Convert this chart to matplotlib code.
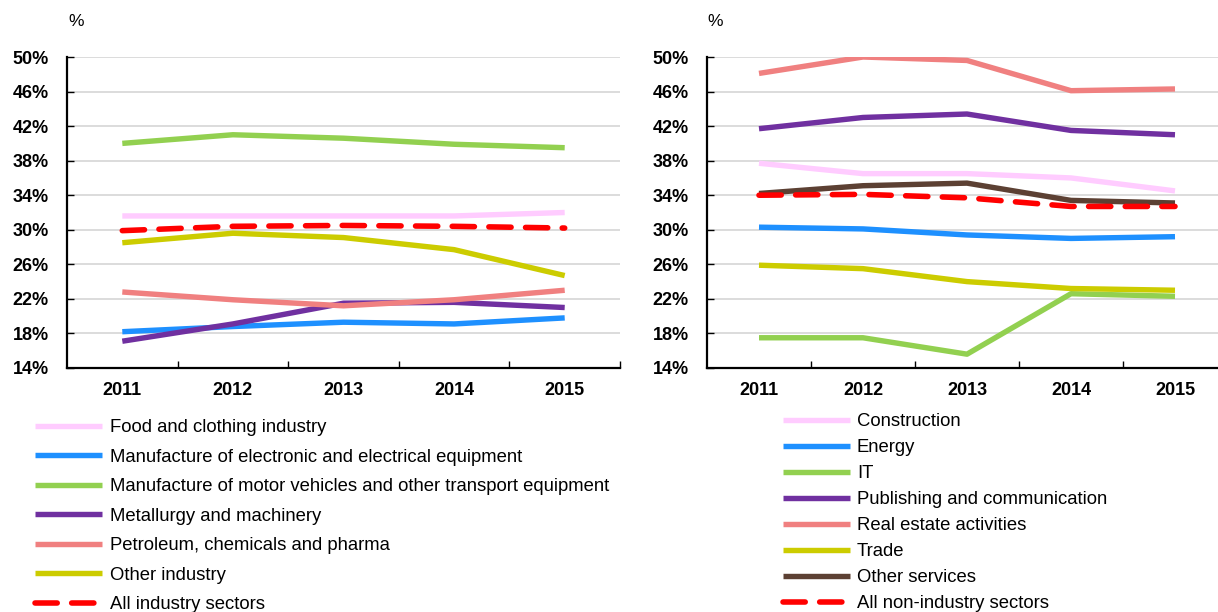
import matplotlib.pyplot as plt
from matplotlib.ticker import FixedLocator, FuncFormatter

plt.rcParams['font.family'] = ['Liberation Sans', 'DejaVu Sans']

years = ['2011', '2012', '2013', '2014', '2015']

# left panel: industry sectors (%)
industry_labels = [
    'Food and clothing industry',
    'Manufacture of electronic and electrical equipment',
    'Manufacture of motor vehicles and other transport equipment',
    'Metallurgy and machinery',
    'Petroleum, chemicals and pharma',
    'Other industry',
    'All industry sectors',
]
food = [31.6, 31.6, 31.6, 31.6, 32.0]
electronic = [18.2, 18.8, 19.3, 19.1, 19.8]
motor = [40.0, 41.0, 40.6, 39.9, 39.5]
metallurgy = [17.1, 19.1, 21.5, 21.6, 21.0]
petroleum = [22.8, 21.9, 21.2, 21.9, 23.0]
other_industry = [28.5, 29.6, 29.1, 27.7, 24.7]
all_industry = [29.9, 30.4, 30.5, 30.4, 30.2]
industry_values = [food, electronic, motor, metallurgy, petroleum,
                   other_industry, all_industry]

# right panel: non-industry sectors (%)
services_labels = [
    'Construction',
    'Energy',
    'IT',
    'Publishing and communication',
    'Real estate activities',
    'Trade',
    'Other services',
    'All non-industry sectors',
]
construction = [37.7, 36.5, 36.5, 36.0, 34.5]
energy = [30.3, 30.1, 29.4, 29.0, 29.2]
it = [17.5, 17.5, 15.6, 22.6, 22.3]
publishing = [41.7, 43.0, 43.4, 41.5, 41.0]
real_estate = [48.1, 50.0, 49.6, 46.1, 46.3]
trade = [25.9, 25.5, 24.0, 23.2, 23.0]
other_services = [34.2, 35.1, 35.4, 33.4, 33.1]
all_services = [34.0, 34.1, 33.7, 32.7, 32.7]
services_values = [construction, energy, it, publishing, real_estate,
                   trade, other_services, all_services]

industry_colors = ['#FFCCFF', '#1E90FF', '#92D050', '#7030A0', '#F08080',
                   '#CCCC00', '#FF0000']
services_colors = ['#FFCCFF', '#1E90FF', '#92D050', '#7030A0', '#F08080',
                   '#CCCC00', '#5C4033', '#FF0000']

W, H = 1218, 612
fig = plt.figure(figsize=(W / 100, H / 100), dpi=100)


def setup_axes(ax):
    ax.set_xlim(-0.5, 4.5)
    ax.set_ylim(14, 50)
    ax.set_yticks(range(14, 51, 4))
    ax.yaxis.set_major_formatter(FuncFormatter(lambda v, p: f'{int(v)}%'))
    ax.set_xticks(range(len(years)))
    ax.set_xticklabels(years)
    ax.xaxis.set_minor_locator(FixedLocator([0.5, 1.5, 2.5, 3.5, 4.5]))
    ax.tick_params(axis='x', which='major', length=0, pad=10,
                   labelsize=13)
    ax.tick_params(axis='x', which='minor', direction='in', length=5,
                   width=1)
    ax.tick_params(axis='y', direction='in', length=5, width=1, pad=13,
                   labelsize=13)
    for lab in ax.get_xticklabels() + ax.get_yticklabels():
        lab.set_fontweight('bold')
    ax.grid(axis='y', color='#D9D9D9', linewidth=1.3)
    ax.set_axisbelow(True)
    for s in ['top', 'right']:
        ax.spines[s].set_visible(False)
    for s in ['left', 'bottom']:
        ax.spines[s].set_linewidth(1.6)
        ax.spines[s].set_color('black')


def draw_lines(ax, values, colors, labels):
    handles = []
    x = list(range(len(years)))
    for vals, col, lab in zip(values, colors, labels):
        if col == '#FF0000':
            h, = ax.plot(x, vals, color=col, lw=4.0, dashes=(4, 2.6),
                         dash_capstyle='round', label=lab, zorder=4)
        else:
            h, = ax.plot(x, vals, color=col, lw=3.9,
                         solid_capstyle='butt', label=lab, zorder=3)
        handles.append(h)
    return handles


ax1 = fig.add_axes([67 / W, 1 - 368 / H, (620 - 67) / W, (368 - 57) / H])
ax2 = fig.add_axes([707 / W, 1 - 368 / H, (1227 - 707) / W, (368 - 57) / H])

setup_axes(ax1)
setup_axes(ax2)
h1 = draw_lines(ax1, industry_values, industry_colors, industry_labels)
h2 = draw_lines(ax2, services_values, services_colors, services_labels)

fig.text(76 / W, 1 - 21 / H, '%', ha='center', va='center', fontsize=12.5)
fig.text(715 / W, 1 - 21 / H, '%', ha='center', va='center', fontsize=12.5)

fig.legend(handles=h1, labels=industry_labels, loc='upper left',
           bbox_to_anchor=(35 / W, 1 - 419 / H), frameon=False,
           fontsize=13.3, handlelength=3.6, handletextpad=0.45,
           labelspacing=0.68, borderpad=0, borderaxespad=0)
fig.legend(handles=h2, labels=services_labels, loc='upper left',
           bbox_to_anchor=(783 / W, 1 - 413 / H), frameon=False,
           fontsize=13.3, handlelength=3.6, handletextpad=0.4,
           labelspacing=0.49, borderpad=0, borderaxespad=0)

fig.savefig('out.png', dpi=100)
